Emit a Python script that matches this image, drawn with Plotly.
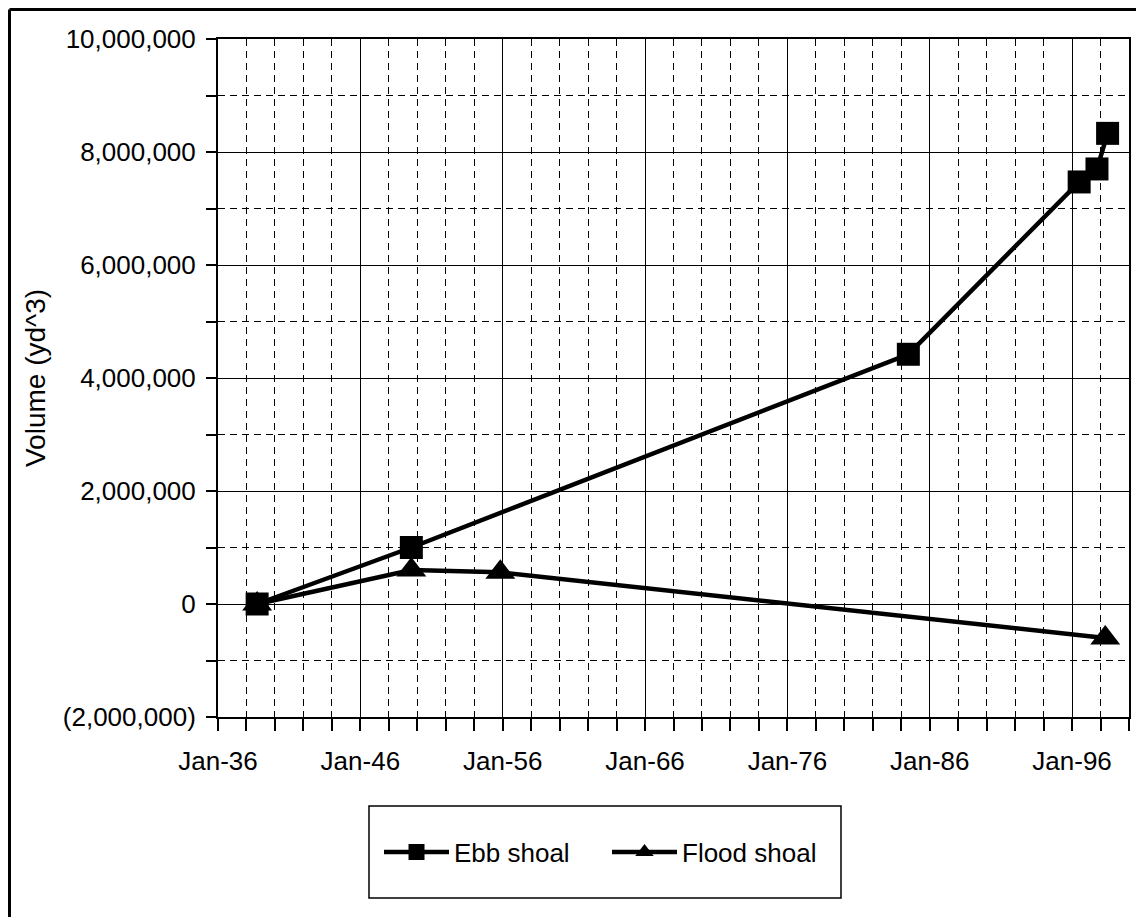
import plotly.graph_objects as go

# ---- data ----
ebb_dates = ["1938-10-01", "1949-08-01", "1984-07-01", "1996-07-01", "1997-10-01", "1998-07-01"]
ebb_volume = [0, 1000000, 4420000, 7470000, 7700000, 8330000]

flood_dates = ["1938-10-01", "1949-08-01", "1955-11-01", "1998-05-01"]
flood_volume = [0, 600000, 560000, -600000]

series_names = ["Ebb shoal", "Flood shoal"]
y_title = "Volume (yd^3)"
y_tick_values = [-2000000, 0, 2000000, 4000000, 6000000, 8000000, 10000000]
y_tick_labels = ["(2,000,000)", "0", "2,000,000", "4,000,000", "6,000,000", "8,000,000", "10,000,000"]

# ---- layout geometry (page pixels; the page body adds an 8px offset) ----
OFF = 8
W, H = 1144, 917
PL, PT, PR, PB = 218, 39, 1129, 717          # plot area in page pixels
L, T = PL - OFF, PT - OFF
R = W - (PR - OFF)
B = H - (PB - OFF)
PW, PH = PR - PL, PB - PT

def px(x):
    return (x - PL) / PW

def py(y):
    return (PB - y) / PH

FONT = "Liberation Sans, Arial, sans-serif"

fig = go.Figure()
fig.add_trace(go.Scatter(
    x=ebb_dates, y=ebb_volume, name=series_names[0], mode="lines+markers",
    line=dict(color="black", width=4.5),
    marker=dict(symbol="square", size=23, color="black"),
))
fig.add_trace(go.Scatter(
    x=flood_dates, y=flood_volume, name=series_names[1], mode="lines+markers",
    line=dict(color="black", width=4.5),
    marker=dict(symbol="triangle-up", size=26, color="black"),
))

fig.update_layout(
    width=W, height=H,
    margin=dict(l=L, r=R, t=T, b=B, autoexpand=False),
    paper_bgcolor="white", plot_bgcolor="white",
    font=dict(family=FONT, size=26, color="black"),
    showlegend=True,
    legend=dict(
        orientation="h", x=px(379), xanchor="left", y=py(852), yanchor="middle",
        bgcolor="rgba(0,0,0,0)", borderwidth=0,
        font=dict(size=26), itemwidth=65, entrywidth=148,
    ),
    xaxis=dict(
        type="date", range=["1936-01-01", "2000-01-01"],
        tick0="1936-01-01", dtick="M120", tickformat="%b-%y",
        showgrid=True, gridcolor="black", gridwidth=1.3,
        showline=True, linecolor="black", linewidth=2, mirror=True,
        ticks="outside", ticklen=12, tickcolor="black", tickwidth=1.5,
        ticklabelstandoff=8,
        minor=dict(dtick="M24", showgrid=True, gridcolor="black", gridwidth=1.3,
                   griddash="7px,5px", ticks="outside", ticklen=12,
                   tickcolor="black", tickwidth=1.5),
        zeroline=False, fixedrange=True,
    ),
    yaxis=dict(
        range=[-2000000, 10000000],
        tickmode="array", tickvals=y_tick_values, ticktext=y_tick_labels,
        showgrid=True, gridcolor="black", gridwidth=1.3,
        showline=True, linecolor="black", linewidth=2, mirror=True,
        ticks="outside", ticklen=10, tickcolor="black", tickwidth=1.5,
        minor=dict(tickmode="linear", tick0=0, dtick=1000000, showgrid=True,
                   gridcolor="black", gridwidth=1.3, griddash="7px,5px",
                   ticks="outside", ticklen=10, tickcolor="black", tickwidth=1.5),
        zeroline=False, fixedrange=True,
        title=dict(text=y_title, standoff=9, font=dict(size=28)),
        ticklabelstandoff=5,
    ),
    shapes=[
        # outer frame (left and top edges visible), kept inside the figure area
        dict(type="line", xref="paper", yref="paper", x0=px(OFF + 1.5), x1=px(1300),
             y0=py(OFF + 1.5), y1=py(OFF + 1.5), line=dict(color="black", width=3)),
        dict(type="line", xref="paper", yref="paper", x0=px(OFF + 1.5), x1=px(OFF + 1.5),
             y0=py(OFF + 1.5), y1=py(1100), line=dict(color="black", width=3)),
        # legend box
        dict(type="rect", xref="paper", yref="paper", x0=px(369), x1=px(841),
             y0=py(898), y1=py(806), line=dict(color="black", width=1.5)),
    ],
)

fig.write_html("out.html")
